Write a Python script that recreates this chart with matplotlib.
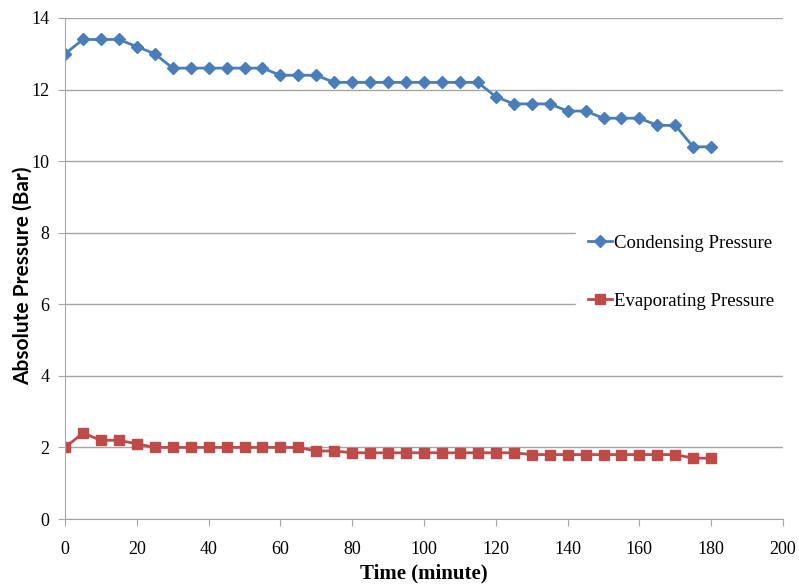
import matplotlib
matplotlib.use("Agg")
import matplotlib.pyplot as plt

time_min = [0, 5, 10, 15, 20, 25, 30, 35, 40, 45, 50, 55, 60, 65, 70, 75, 80, 85, 90,
            95, 100, 105, 110, 115, 120, 125, 130, 135, 140, 145, 150, 155, 160, 165,
            170, 175, 180]
condensing = [13.0, 13.4, 13.4, 13.4, 13.2, 13.0, 12.6, 12.6, 12.6, 12.6, 12.6, 12.6,
              12.4, 12.4, 12.4, 12.2, 12.2, 12.2, 12.2, 12.2, 12.2, 12.2, 12.2, 12.2,
              11.8, 11.6, 11.6, 11.6, 11.4, 11.4, 11.2, 11.2, 11.2, 11.0, 11.0, 10.4, 10.4]
evaporating = [2.0, 2.4, 2.2, 2.2, 2.1, 2.0, 2.0, 2.0, 2.0, 2.0, 2.0, 2.0, 2.0, 2.0,
               1.9, 1.9, 1.85, 1.85, 1.85, 1.85, 1.85, 1.85, 1.85, 1.85, 1.85, 1.85,
               1.8, 1.8, 1.8, 1.8, 1.8, 1.8, 1.8, 1.8, 1.8, 1.7, 1.7]

fig = plt.figure(figsize=(7.99, 5.85), dpi=100)
ax = fig.add_axes([65 / 799, 1 - 519 / 585, (783 - 65) / 799, (519 - 18) / 585])

ax.plot(time_min, condensing, color="#4a7ebb", marker="D", markersize=6, linewidth=2,
        label="Condensing Pressure")
ax.plot(time_min, evaporating, color="#be4b48", marker="s", markersize=7, linewidth=2,
        label="Evaporating Pressure")

ax.set_xlim(0, 200)
ax.set_ylim(0, 14)
ax.set_xticks(range(0, 201, 20))
ax.set_yticks(range(0, 15, 2))
ax.yaxis.grid(True, color="#a6a6a6", linewidth=1)
ax.set_axisbelow(True)

for s in ["top", "right"]:
    ax.spines[s].set_visible(False)
for s in ["left", "bottom"]:
    ax.spines[s].set_color("#a6a6a6")
ax.tick_params(axis="both", colors="#a6a6a6", labelcolor="black", length=5,
               labelsize=13)
ax.tick_params(axis="x", pad=11)
ax.tick_params(axis="y", pad=6)
for lbl in ax.get_xticklabels() + ax.get_yticklabels():
    lbl.set_fontfamily("Liberation Serif")

ax.set_xlabel("Time (minute)", fontfamily="Liberation Serif", fontweight="bold",
              fontsize=15)
ax.set_ylabel("Absolute Pressure (Bar)", fontfamily="Lato", fontweight="bold",
              fontsize=15)
ax.xaxis.set_label_coords(0.5, -0.088)
ax.yaxis.set_label_coords(-0.045, 0.485)

leg = ax.legend(loc="upper left", bbox_to_anchor=(0.699, 0.609), frameon=True,
                fancybox=False, edgecolor="white", facecolor="white", framealpha=1,
                prop={"family": "Liberation Serif", "size": 13.5}, handlelength=1.3,
                handletextpad=0.1, labelspacing=2.2, borderpad=0.6)

fig.savefig("out.png", dpi=100)
